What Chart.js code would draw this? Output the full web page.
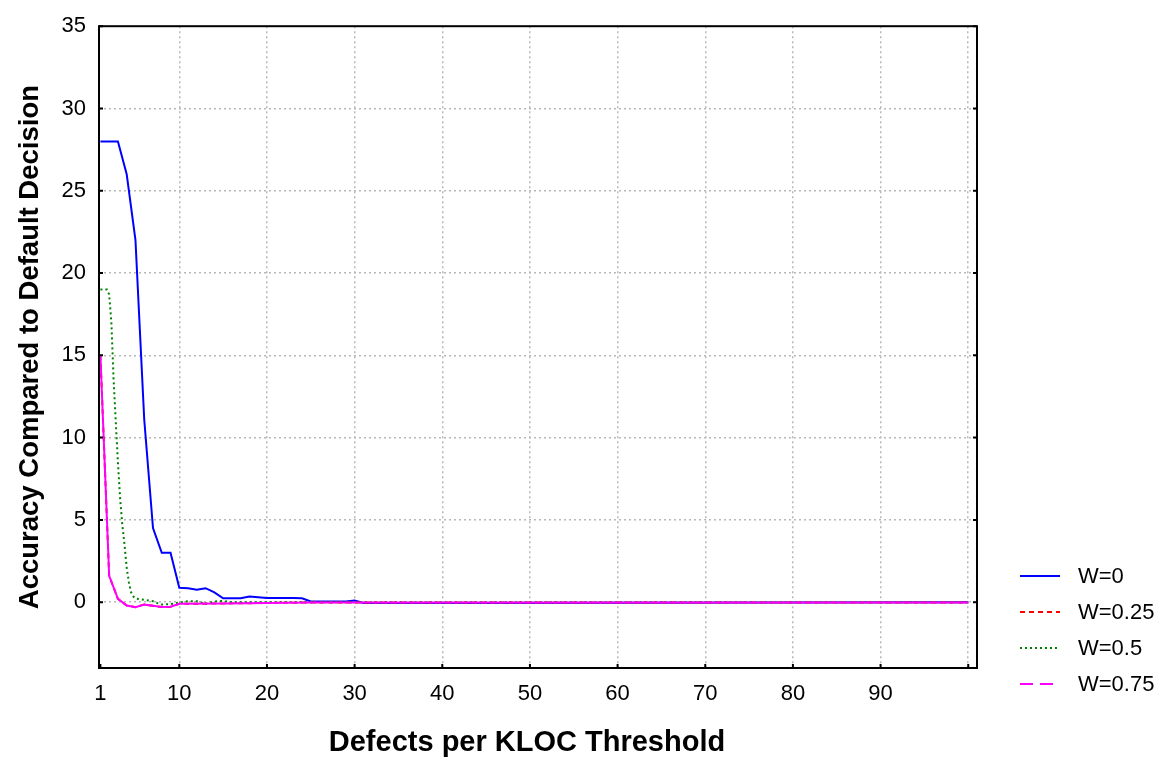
<!DOCTYPE html>
<html>
<head>
<meta charset="utf-8">
<script src="https://cdn.jsdelivr.net/npm/chart.js@4.4.1/dist/chart.umd.min.js"></script>
<style>
  body { margin: 0; background: #fff; }
</style>
</head>
<body>
<canvas id="lineChart" width="1169" height="757"></canvas>
<script>
// values (threshold -> accuracy difference)
const w0X = [1,2,3,4,5,6,7,8,9,10,11,12,13,14,15,16,17,18,19,20,21,22,23,24,25,26,27,28,29,30,31,45,100];
const w0Y = [28,28,28,26,22,11.1,4.5,3,3,0.87,0.85,0.75,0.85,0.6,0.24,0.24,0.24,0.34,0.3,0.26,0.25,0.25,0.25,0.24,0.04,0.04,0.04,0.04,0.04,0.1,-0.05,-0.05,0];

const w025X = [1,2,3,4,5,6,7,8,9,10,15,20,25,100];
const w025Y = [15,1.6,0.2,-0.2,-0.3,-0.15,-0.22,-0.3,-0.28,-0.1,-0.08,-0.05,-0.02,-0.02];

const w05X = [1,1.25,1.5,1.75,2,2.25,2.5,2.75,3,3.25,3.5,3.75,4,4.25,4.5,4.75,5,6,7,7.5,8,9,10,11,12,13,14,15,16,20,100];
const w05Y = [19,19,19,19,18.7,17,13.6,11,8.5,6.3,4.7,3.5,2.1,1.2,0.6,0.35,0.22,0.14,0.06,-0.06,-0.14,-0.12,-0.02,0.06,0.06,-0.1,0.04,0.08,0,0,0];

const w075X = [1,2,3,4,5,6,7,8,9,10,15,20,25,100];
const w075Y = [15,1.6,0.2,-0.2,-0.3,-0.15,-0.22,-0.3,-0.28,-0.1,-0.08,-0.05,-0.02,-0.02];

const seriesNames = ['W=0', 'W=0.25', 'W=0.5', 'W=0.75'];
const xTicks = [1,10,20,30,40,50,60,70,80,90,100];
const xTickLabels = ['1','10','20','30','40','50','60','70','80','90',''];
const yTicks = [0,5,10,15,20,25,30,35];
const xTitle = 'Defects per KLOC Threshold';
const yTitle = 'Accuracy Compared to Default Decision';

const font = "'Liberation Sans', Arial, sans-serif";

function pairs(xs, ys) {
  return xs.map((v, i) => ({x: v, y: ys[i]}));
}

// legend dash patterns (the plot lines of W=0.75 come out solid in the original)
const legendDash = [[], [5,4], [2,3], [13,7]];

const framePlugin = {
  id: 'frame',
  afterDatasetsDraw(chart) {
    const {ctx, chartArea: a, scales: {x, y}} = chart;
    ctx.save();
    ctx.strokeStyle = '#000';
    ctx.lineWidth = 2;
    ctx.setLineDash([]);
    ctx.strokeRect(a.left, a.top, a.right - a.left, a.bottom - a.top);
    ctx.beginPath();
    yTicks.forEach(v => {
      const py = y.getPixelForValue(v);
      ctx.moveTo(a.left, py); ctx.lineTo(a.left + 4, py);
      ctx.moveTo(a.right, py); ctx.lineTo(a.right - 4, py);
    });
    xTicks.forEach(v => {
      const px = x.getPixelForValue(v);
      ctx.moveTo(px, a.bottom); ctx.lineTo(px, a.bottom - 4);
    });
    ctx.stroke();
    ctx.restore();
  },
  afterDraw(chart) {
    const {ctx, chartArea: a} = chart;
    ctx.save();
    // x axis title, sits a little left of the plot centre in the original
    ctx.font = 'bold 29px ' + font;
    ctx.fillStyle = '#000';
    ctx.textAlign = 'center';
    ctx.textBaseline = 'alphabetic';
    ctx.fillText(xTitle, (a.left + a.right) / 2 - 11, 751);

    // legend
    const lx = a.right + 43;
    ctx.font = '22px ' + font;
    ctx.textAlign = 'left';
    ctx.textBaseline = 'middle';
    chart.data.datasets.forEach((ds, i) => {
      const ly = 576 + i * 36;
      ctx.strokeStyle = ds.borderColor;
      ctx.lineWidth = 2;
      ctx.setLineDash(legendDash[i]);
      ctx.beginPath();
      ctx.moveTo(lx, ly); ctx.lineTo(lx + 40, ly);
      ctx.stroke();
      ctx.setLineDash([]);
      ctx.fillText(ds.label, lx + 58, ly + 1);
    });
    ctx.restore();
  }
};

new Chart(document.querySelector('#lineChart'), {
  type: 'line',
  data: {
    datasets: [{
      label: seriesNames[0],
      data: pairs(w0X, w0Y),
      borderColor: '#0000ff',
      borderWidth: 2,
      order: 3
    }, {
      label: seriesNames[1],
      data: pairs(w025X, w025Y),
      borderColor: '#ff0000',
      borderWidth: 2,
      borderDash: [5,4],
      order: 2
    }, {
      label: seriesNames[2],
      data: pairs(w05X, w05Y),
      borderColor: '#008000',
      borderWidth: 2,
      borderDash: [2,3],
      order: 1
    }, {
      label: seriesNames[3],
      data: pairs(w075X, w075Y),
      borderColor: '#ff00ff',
      borderWidth: 2,
      order: 0
    }]
  },
  options: {
    responsive: false,
    animation: false,
    layout: { padding: { left: 0, right: 192, top: 22, bottom: 0 } },
    elements: { point: { radius: 0 }, line: { tension: 0, fill: false } },
    plugins: { legend: { display: false }, tooltip: { enabled: false } },
    scales: {
      x: {
        type: 'linear',
        min: 0.84,
        max: 101,
        afterBuildTicks: s => { s.ticks = xTicks.map(v => ({value: v})); },
        afterFit: s => { s.height = 89; },
        ticks: {
          autoSkip: false,
          maxRotation: 0,
          padding: 13,
          color: '#000',
          font: { family: font, size: 22 },
          callback: (v, i) => xTickLabels[i]
        },
        grid: {
          color: c => (c.tick && c.tick.value === 1) ? 'rgba(0,0,0,0)' : '#b8b8b8',
          lineWidth: 1.5,
          drawTicks: false
        },
        border: { display: false, dash: [2,3] }
      },
      y: {
        min: -4,
        max: 35,
        afterBuildTicks: s => { s.ticks = yTicks.map(v => ({value: v})); },
        afterFit: s => { s.width = 99; },
        ticks: {
          padding: 13,
          color: '#000',
          font: { family: font, size: 22 }
        },
        grid: {
          color: c => (c.tick && c.tick.value === 35) ? 'rgba(0,0,0,0)' : '#b8b8b8',
          lineWidth: 1.5,
          drawTicks: false
        },
        border: { display: false, dash: [2,3] },
        title: {
          display: true,
          text: yTitle,
          color: '#000',
          font: { family: font, size: 27.5, weight: 'bold' },
          padding: { top: 14, bottom: 0 }
        }
      }
    }
  },
  plugins: [framePlugin]
});
</script>
</body>
</html>
